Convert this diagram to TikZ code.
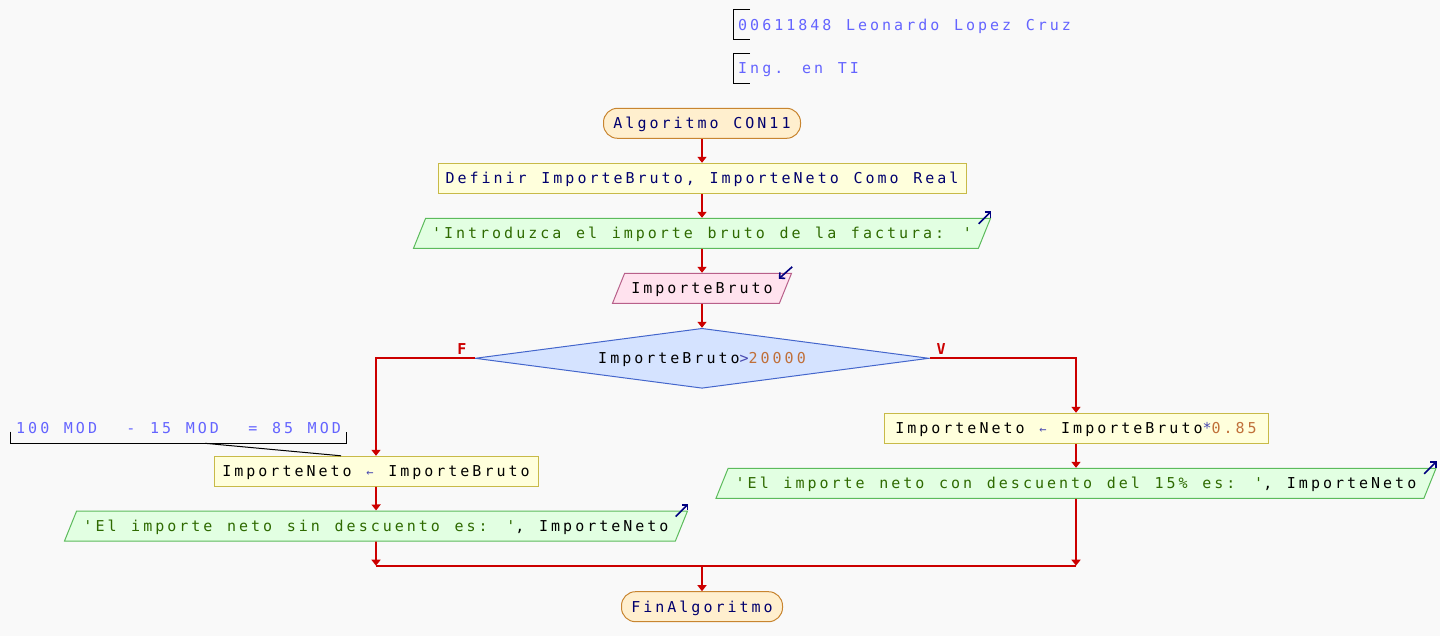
\documentclass[tikz,border=0pt]{standalone}
\usepackage{fontspec}
\usetikzlibrary{shapes.geometric,arrows.meta,positioning}

\newfontfamily\psfont{DejaVu Sans Mono}[LetterSpace=20,WordSpace=1.22,Ligatures=TeXOff]
\newfontfamily\etiqfont{DejaVu Sans Mono}[Ligatures=TeXOff]

\definecolor{fondo}{HTML}{F9F9F9}
\definecolor{flechacol}{HTML}{CC0000}
\definecolor{inifondo}{HTML}{FFEFCE}
\definecolor{inibord}{HTML}{C88530}
\definecolor{procfondo}{HTML}{FFFFDC}
\definecolor{procbord}{HTML}{C8BA48}
\definecolor{salfondo}{HTML}{E2FFE2}
\definecolor{salbord}{HTML}{5CBB5C}
\definecolor{entfondo}{HTML}{FFE2EE}
\definecolor{entbord}{HTML}{B8608A}
\definecolor{decfondo}{HTML}{D5E3FF}
\definecolor{decbord}{HTML}{4466CC}
\definecolor{kwcol}{HTML}{00006E}
\definecolor{cadcol}{HTML}{2E6A00}
\definecolor{nrocol}{HTML}{C0703A}
\definecolor{opcol}{HTML}{4848B0}
\definecolor{notacol}{HTML}{6464FF}
\definecolor{iconocol}{HTML}{000080}

\newcommand{\kw}[1]{{\color{kwcol}#1}}
\newcommand{\cad}[1]{{\color{cadcol}#1}}
\newcommand{\nro}[1]{{\color{nrocol}#1}}
\newcommand{\oper}[1]{{\color{opcol}#1}}
\newcommand{\asig}{{\color{opcol}\fontsize{12}{12}\selectfont ←}}

\tikzset{
  texto/.style={font=\psfont\fontsize{15}{18}\selectfont, text height=20.5pt, text depth=9.5pt,
    inner xsep=2pt, inner ysep=0pt, minimum height=30pt, line width=1pt},
  inicio/.style={texto, rectangle, rounded corners=14pt, draw=inibord, fill=inifondo, text=kwcol, minimum width=197pt},
  proceso/.style={texto, rectangle, draw=procbord, fill=procfondo},
  salida/.style={texto, trapezium, trapezium left angle=68, trapezium right angle=112,
    trapezium stretches body, draw=salbord, fill=salfondo},
  entrada/.style={salida, draw=entbord, fill=entfondo},
  decision/.style={font=\psfont\fontsize{15}{18}\selectfont, diamond, aspect=8, inner sep=0pt,
    text height=11pt, text depth=0pt, minimum width=454pt, minimum height=60pt,
    draw=decbord, fill=decfondo, line width=1pt},
  nota/.style={font=\psfont\fontsize{15}{18}\selectfont, text=notacol, inner sep=0pt, anchor=base west},
  corchete/.style={draw=black, line width=1pt},
  flecha/.style={draw=flechacol, line width=1.8pt, -{Triangle[length=6pt,width=9pt]}},
  linea/.style={draw=flechacol, line width=1.8pt},
  etiq/.style={font=\etiqfont\bfseries\fontsize{15}{18}\selectfont, text=flechacol, inner sep=0pt},
  icono/.style={draw=iconocol, line width=1.6pt, -{Straight Barb[length=4pt,width=8pt]}},
}

\begin{document}
\begin{tikzpicture}[x=1pt,y=-1pt]
\useasboundingbox (0,0) rectangle (1440,636);
\fill[fondo] (0,0) rectangle (1440,636);

% comentarios de cabecera
\node[nota] (autor) at (738,30.5) {00611848 Leonardo Lopez Cruz};
\node[nota] (carrera) at (738,73.8) {Ing. en TI};
\draw[corchete] (750,10) -- (733,10) -- (733,40) -- (750,40);
\draw[corchete] (750,53.3) -- (733,53.3) -- (733,83.3) -- (750,83.3);

% draw nodes
\node[inicio] (ini) at (702,123.3) {Algoritmo CON11};
\node[proceso, minimum width=528pt] (defin) at (702,178.3) {\kw{Definir ImporteBruto, ImporteNeto Como Real}};
\node[salida, minimum width=577pt] (sal1) at (702,233.3) {\cad{'Introduzca el importe bruto de la factura: '}};
\node[entrada, minimum width=179pt] (lee) at (702,288.3) {ImporteBruto};
\node[decision] (cond) at (702,358.3) {ImporteBruto\oper{>}\nro{20000}};
\node[proceso, minimum width=384pt] (asig1) at (1076,428.3) {ImporteNeto \asig{} ImporteBruto\oper{*}\nro{0.85}};
\node[salida, minimum width=720pt] (sal3) at (1076,483.3) {\cad{'El importe neto con descuento del 15\% es: '}, ImporteNeto};
\node[proceso, minimum width=324pt] (asig2) at (376,471.3) {ImporteNeto \asig{} ImporteBruto};
\node[salida, minimum width=623pt] (sal2) at (376,526) {\cad{'El importe neto sin descuento es: '}, ImporteNeto};
\node[inicio, minimum width=161pt] (fin) at (702,606.7) {FinAlgoritmo};
\coordinate (unir) at (702,565.7);

% nota del lado izquierdo
\node[nota] (mod) at (16,433.2) {100 MOD\ \ - 15 MOD\ \ = 85 MOD};
\draw[corchete] (10.7,431.7) -- (10.7,443.3) -- (346.7,443.3) -- (346.7,431.7);
\coordinate (modpie) at (205,443.3);
\draw[corchete] (modpie) -- ([xshift=-35pt]asig2.north);

% draw arrows
\draw[flecha] (ini) -- (defin);
\draw[flecha] (defin) -- (sal1);
\draw[flecha] (sal1) -- (lee);
\draw[flecha] (lee) -- (cond);
\draw[flecha] (cond.west) -| (asig2);
\draw[flecha] (cond.east) -| (asig1);
\node[etiq, above left=4pt and 8pt of cond.west] (etF) {F};
\node[etiq, above right=4pt and 7pt of cond.east] (etV) {V};
\draw[flecha] (asig2) -- (sal2);
\draw[flecha] (asig1) -- (sal3);
\draw[flecha] (sal2) -- (sal2 |- unir);
\draw[flecha] (sal3) -- (sal3 |- unir);
\draw[linea] (sal2 |- unir) -- (sal3 |- unir);
\draw[flecha] (unir) -- (fin);

% iconos de lectura / escritura
\draw[icono] ([shift={(-12.5,6)}]sal1.top right corner) -- ([shift={(0,-6.5)}]sal1.top right corner);
\draw[icono] ([shift={(-12.5,6)}]sal2.top right corner) -- ([shift={(0,-6.5)}]sal2.top right corner);
\draw[icono] ([shift={(-12.5,6)}]sal3.top right corner) -- ([shift={(0,-6.5)}]sal3.top right corner);
\draw[icono] ([shift={(0,-6)}]lee.top right corner) -- ([shift={(-13.5,6)}]lee.top right corner);

\end{tikzpicture}
\end{document}
